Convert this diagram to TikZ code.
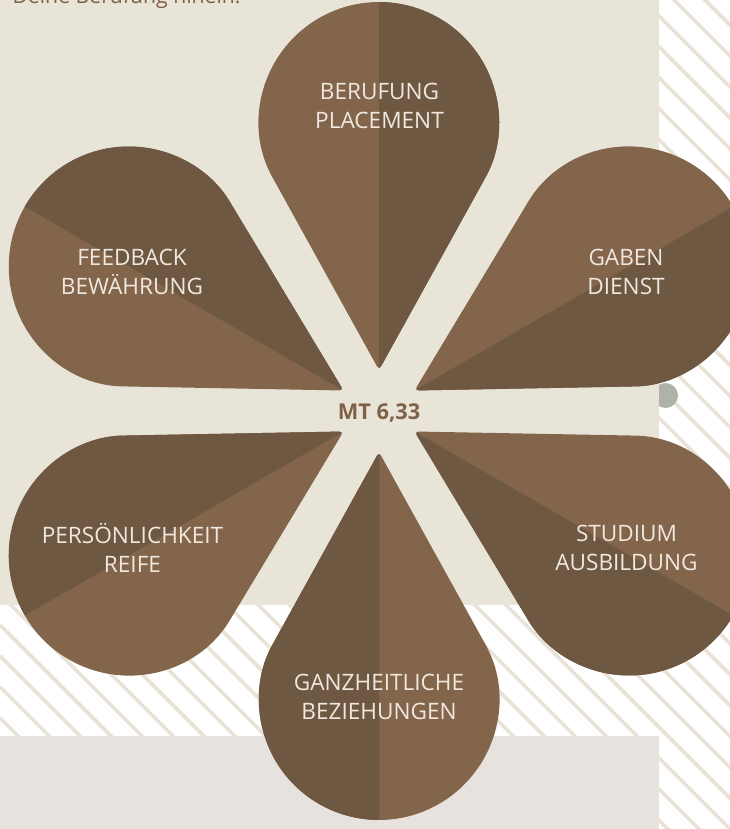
\documentclass[tikz,border=0pt]{standalone}
\usepackage{fontspec}
\setmainfont{Open Sans}
\definecolor{petallight}{HTML}{82654A}
\definecolor{petaldark}{HTML}{6E5842}
\definecolor{beige}{HTML}{E9E4D8}
\definecolor{stripe}{HTML}{E8E3D6}
\definecolor{greybox}{HTML}{E8E2DE}
\definecolor{dotgrey}{HTML}{AEB3AA}
\definecolor{labeltext}{HTML}{F0E8DF}
\definecolor{browntext}{HTML}{7F6147}

\begin{document}
\begin{tikzpicture}[x=1pt,y=-1pt,
  petallabel/.style={text=labeltext,align=center,font=\fontsize{22.6}{29}\selectfont},
  petal/.style={rounded corners=4pt}]
\useasboundingbox (0,0) rectangle (730,829);
\fill[white] (0,0) rectangle (730,829);
% stripes
\begin{scope}
\clip (0,0) rectangle (730,829);
\foreach \k in {-44,...,6}
  \draw[stripe,line width=3.6] (0,625+\k*30.93) -- ++(760,760);
\end{scope}
\fill[dotgrey] (665.5,395.5) circle (12.5);
\fill[beige] (0,0) rectangle (659,605);
\fill[greybox] (0,736) rectangle (659,829);
\node[anchor=base west,text=browntext,font=\fontsize{21.2}{24}\selectfont] (intro) at (9,4) {Deine Berufung hinein.};
% petals
\begin{scope}[shift={(379,411)}]
\foreach \a in {0,60,...,300} {
  \begin{scope}[rotate=\a]
  \fill[petallight,petal] (0,-41) -- (-105,-230.9) arc[start angle=151.06,end angle=388.94,radius=120] -- cycle;
  \begin{scope}
  \clip (0,-30) rectangle (130,-420);
  \fill[petaldark,petal] (0,-41) -- (-105,-230.9) arc[start angle=151.06,end angle=388.94,radius=120] -- cycle;
  \end{scope}
  \end{scope}
}
\end{scope}
\node[petallabel] (berufung) at (379.5,105.5) {BERUFUNG\\PLACEMENT};
\node[petallabel] (gaben) at (626,272) {GABEN\\DIENST};
\node[petallabel] (studium) at (626.5,548) {STUDIUM\\AUSBILDUNG};
\node[petallabel] (beziehungen) at (379,697) {GANZHEITLICHE\\BEZIEHUNGEN};
\node[petallabel] (reife) at (132.5,548) {PERSÖNLICHKEIT\\REIFE};
\node[petallabel] (feedback) at (132,272) {FEEDBACK\\BEWÄHRUNG};
\node[text=browntext,font=\bfseries\fontsize{21.8}{24}\selectfont] (verse) at (379,413) {MT 6,33};
\end{tikzpicture}
\end{document}
